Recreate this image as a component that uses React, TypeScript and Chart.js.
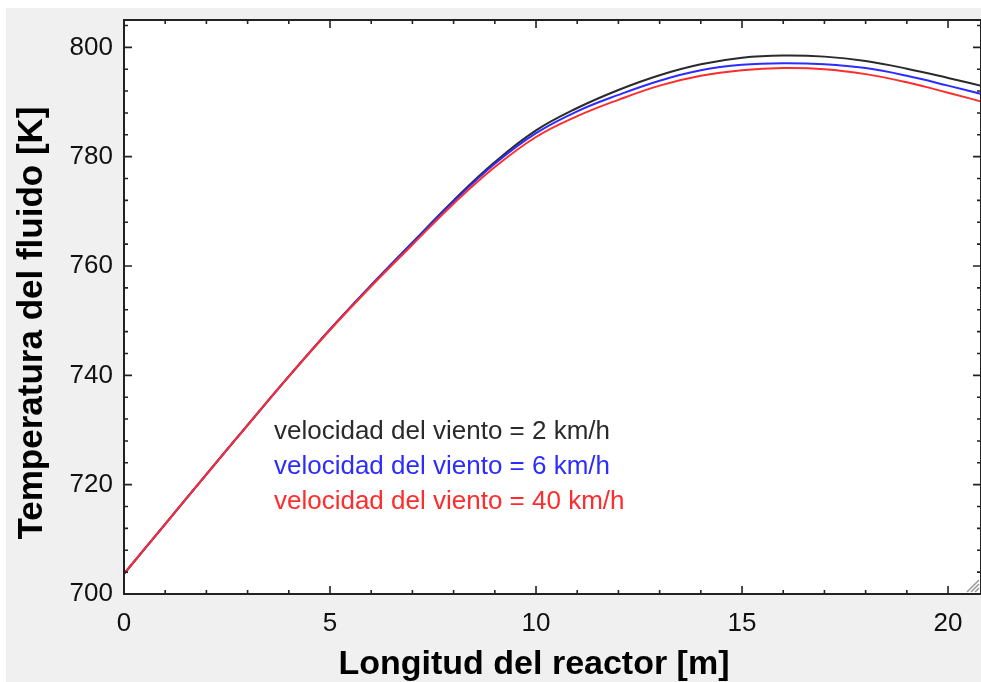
import React, { useEffect, useRef } from "react";
import { Chart, registerables } from "chart.js";

Chart.register(...registerables);

// Longitud del reactor [m]
const X_VALUES = [0, 1, 2, 3, 4, 5, 6, 7, 8, 9, 10, 11, 12, 13, 14, 15, 16, 17, 18, 19, 20, 21];
// Temperatura del fluido [K]
const T_2KMH = [703.7, 712.8, 721.9, 730.9, 739.8, 748.4, 756.5, 764.3, 772.0, 779.0, 784.8, 788.9, 792.2, 794.9, 796.9, 798.1, 798.5, 798.3, 797.5, 796.1, 794.4, 792.6];
const T_6KMH = [703.7, 712.8, 721.9, 730.9, 739.8, 748.4, 756.5, 764.2, 771.8, 778.7, 784.3, 788.3, 791.3, 793.9, 795.8, 796.8, 797.1, 796.9, 796.2, 794.8, 793.0, 791.1];
const T_40KMH = [703.7, 712.8, 721.9, 730.9, 739.8, 748.3, 756.3, 763.9, 771.4, 778.1, 783.6, 787.4, 790.4, 793.0, 794.8, 795.8, 796.2, 796.0, 795.1, 793.6, 791.7, 789.7];

const SERIES_LABELS = [
  "velocidad del viento = 2 km/h",
  "velocidad del viento = 6 km/h",
  "velocidad del viento = 40 km/h",
];
const SERIES_COLORS = ["#2a2a2a", "#2c2cff", "#ff2c2c"];

const X_TICKS = [0, 5, 10, 15, 20];
const Y_TICKS = [700, 720, 740, 760, 780, 800];
const X_MIN = 0;
const X_MAX = 20.8;
const Y_MIN = 700;
const Y_MAX = 805;
const X_MINOR_STEP = 1;
const Y_MINOR_STEP = 4;

const X_TITLE = "Longitud del reactor [m]";
const Y_TITLE = "Temperatura del fluido [K]";

const FONT = "'Liberation Sans', Arial, sans-serif";

const framePlugin = {
  id: "framePlugin",
  beforeDraw(chart: any) {
    const { ctx, chartArea: a, width, height } = chart;
    ctx.save();
    ctx.fillStyle = "#f0f0f0";
    ctx.fillRect(0, 0, width, height);
    ctx.fillStyle = "#ffffff";
    ctx.fillRect(a.left, a.top, a.right - a.left, a.bottom - a.top);
    ctx.restore();
  },
  afterDraw(chart: any) {
    const { ctx, chartArea: a, scales } = chart;
    const xs = scales.x;
    const ys = scales.y;
    ctx.save();

    // ticks (inward, mirrored)
    ctx.strokeStyle = "#222";
    ctx.lineWidth = 1.6;
    ctx.beginPath();
    for (let v = X_MIN; v <= X_MAX + 1e-9; v += X_MINOR_STEP) {
      const px = xs.getPixelForValue(v);
      const major = Math.abs(v % 5) < 1e-9;
      const len = major ? 8 : 4;
      ctx.moveTo(px, a.bottom);
      ctx.lineTo(px, a.bottom - len);
      ctx.moveTo(px, a.top);
      ctx.lineTo(px, a.top + len);
    }
    for (let v = Y_MIN; v <= Y_MAX + 1e-9; v += Y_MINOR_STEP) {
      const py = ys.getPixelForValue(v);
      const major = Math.abs((v - Y_MIN) % 20) < 1e-9;
      const len = major ? 8 : 4;
      ctx.moveTo(a.left, py);
      ctx.lineTo(a.left + len, py);
      ctx.moveTo(a.right, py);
      ctx.lineTo(a.right - len, py);
    }
    ctx.stroke();

    // frame
    ctx.strokeStyle = "#222";
    ctx.lineWidth = 2;
    ctx.strokeRect(a.left, a.top, a.right - a.left, a.bottom - a.top);

    // resize grip
    ctx.strokeStyle = "#9a9a9a";
    ctx.lineWidth = 1.5;
    ctx.beginPath();
    for (const k of [6, 10, 14]) {
      ctx.moveTo(a.right - k, a.bottom - 2);
      ctx.lineTo(a.right - 2, a.bottom - k);
    }
    ctx.stroke();

    // legend texts
    ctx.font = `26px ${FONT}`;
    ctx.textAlign = "left";
    ctx.textBaseline = "middle";
    const lx = xs.getPixelForValue(3.64);
    const ly0 = ys.getPixelForValue(729.6);
    SERIES_LABELS.forEach((label, i) => {
      ctx.fillStyle = SERIES_COLORS[i];
      ctx.fillText(label, lx, ly0 + i * 35);
    });

    // axis titles
    ctx.fillStyle = "#000";
    ctx.font = `bold 34px ${FONT}`;
    ctx.textAlign = "center";
    ctx.textBaseline = "alphabetic";
    ctx.fillText(X_TITLE, 528, 666);

    ctx.font = `bold 35px ${FONT}`;
    ctx.translate(36, 315);
    ctx.rotate(-Math.PI / 2);
    ctx.fillText(Y_TITLE, 0, 0);

    ctx.restore();
  },
};

export default function App() {
  const canvasRef = useRef<HTMLCanvasElement | null>(null);

  useEffect(() => {
    if (!canvasRef.current) return;
    const makeSeries = (ys: number[]) => X_VALUES.map((x, i) => ({ x, y: ys[i] }));
    const seriesValues = [T_2KMH, T_6KMH, T_40KMH];
    const chart = new Chart(canvasRef.current, {
      type: "line",
      data: {
        datasets: seriesValues.map((vals, i) => ({
          label: SERIES_LABELS[i],
          data: makeSeries(vals),
          borderColor: SERIES_COLORS[i],
          backgroundColor: SERIES_COLORS[i],
          borderWidth: 2,
          pointRadius: 0,
          fill: false,
          tension: 0.4,
          order: 3 - i,
        })),
      },
      options: {
        animation: false,
        responsive: false,
        maintainAspectRatio: false,
        layout: { padding: { top: 12, right: 25, left: 0, bottom: 0 } },
        plugins: {
          legend: { display: false },
          tooltip: { enabled: false },
        },
        scales: {
          x: {
            type: "linear",
            min: X_MIN,
            max: X_MAX,
            grid: { display: false, drawTicks: false },
            border: { display: false },
            ticks: {
              font: { family: FONT, size: 26 },
              color: "#111",
              padding: 14,
              maxRotation: 0,
              autoSkip: false,
            },
            afterBuildTicks: (s: any) => {
              s.ticks = X_TICKS.map((value) => ({ value }));
            },
            afterFit: (s: any) => {
              s.height = 88;
              s.paddingLeft = 0;
              s.paddingRight = 0;
            },
          },
          y: {
            type: "linear",
            min: Y_MIN,
            max: Y_MAX,
            grid: { display: false, drawTicks: false },
            border: { display: false },
            ticks: {
              font: { family: FONT, size: 26 },
              color: "#111",
              padding: 11,
              autoSkip: false,
            },
            afterBuildTicks: (s: any) => {
              s.ticks = Y_TICKS.map((value) => ({ value }));
            },
            afterFit: (s: any) => {
              s.width = 118;
              s.paddingTop = 0;
              s.paddingBottom = 0;
            },
          },
        },
      },
      plugins: [framePlugin],
    });
    return () => chart.destroy();
  }, []);

  return (
    <div
      style={{
        position: "fixed",
        left: 6,
        top: 8,
        width: 975,
        height: 674,
        overflow: "hidden",
        background: "#f0f0f0",
      }}
    >
      <canvas ref={canvasRef} width={1000} height={674} style={{ display: "block" }} />
    </div>
  );
}
